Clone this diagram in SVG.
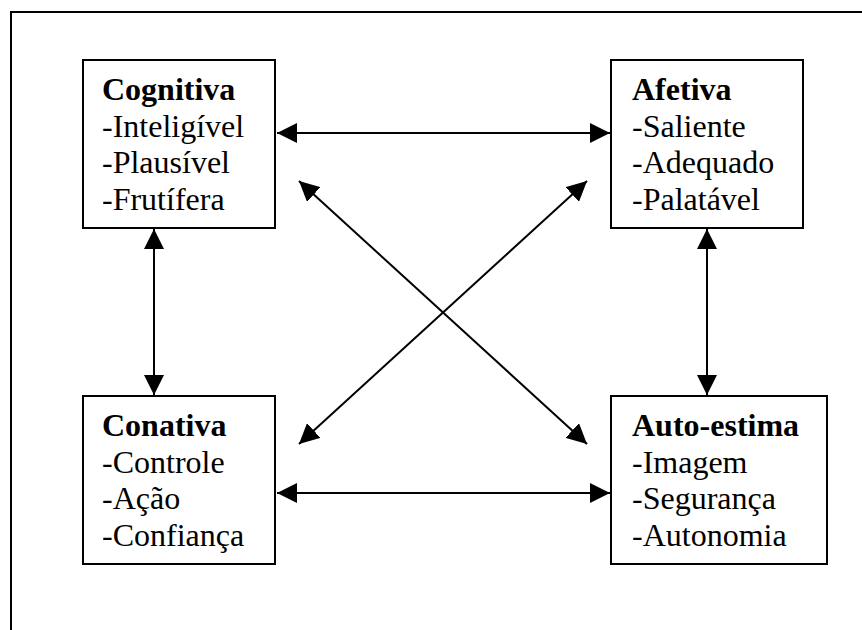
<svg xmlns="http://www.w3.org/2000/svg" width="862" height="630" viewBox="0 0 862 630">
<style>
.box{fill:#fff;stroke:#000;stroke-width:2}
.t{font-family:"Liberation Serif","Times New Roman",serif;font-size:32px;fill:#000}
.b{font-weight:bold}
.c{stroke:#000;stroke-width:2;fill:none;marker-start:url(#ah);marker-end:url(#ah)}
</style>
<defs>
<marker id="ah" markerUnits="userSpaceOnUse" markerWidth="20" markerHeight="20" refX="20" refY="10" orient="auto-start-reverse" viewBox="0 0 20 20">
<path d="M0,0 L20,10 L0,20 z" fill="#000"/>
</marker>
</defs>
<rect width="862" height="630" fill="#fff"/>
<path d="M11,631 L11,12 L862,12" fill="none" stroke="#000" stroke-width="2"/>
<g id="connectors">
<line class="c" x1="277" y1="133" x2="610" y2="133"/>
<line class="c" x1="277" y1="493" x2="610" y2="493"/>
<line class="c" x1="154" y1="229" x2="154" y2="395"/>
<line class="c" x1="707" y1="229" x2="707" y2="395"/>
<line class="c" x1="299" y1="181" x2="587" y2="444"/>
<line class="c" x1="587" y1="181" x2="299" y2="444"/>
</g>
<g id="cognitiva">
<rect class="box" x="83" y="60" width="192" height="168"/>
<text class="t b" x="102" y="100">Cognitiva</text>
<text class="t" x="102" y="137">-Inteligível</text>
<text class="t" x="102" y="173">-Plausível</text>
<text class="t" x="102" y="210">-Frutífera</text>
</g>
<g id="afetiva">
<rect class="box" x="611" y="60" width="192" height="168"/>
<text class="t b" x="632" y="100">Afetiva</text>
<text class="t" x="632" y="137">-Saliente</text>
<text class="t" x="632" y="173">-Adequado</text>
<text class="t" x="632" y="210">-Palatável</text>
</g>
<g id="conativa">
<rect class="box" x="83" y="396" width="192" height="168"/>
<text class="t b" x="102" y="436">Conativa</text>
<text class="t" x="102" y="473">-Controle</text>
<text class="t" x="102" y="509">-Ação</text>
<text class="t" x="102" y="546">-Confiança</text>
</g>
<g id="autoestima">
<rect class="box" x="611" y="396" width="216" height="168"/>
<text class="t b" x="632" y="436">Auto-estima</text>
<text class="t" x="632" y="473">-Imagem</text>
<text class="t" x="632" y="509">-Segurança</text>
<text class="t" x="632" y="546">-Autonomia</text>
</g>
</svg>
